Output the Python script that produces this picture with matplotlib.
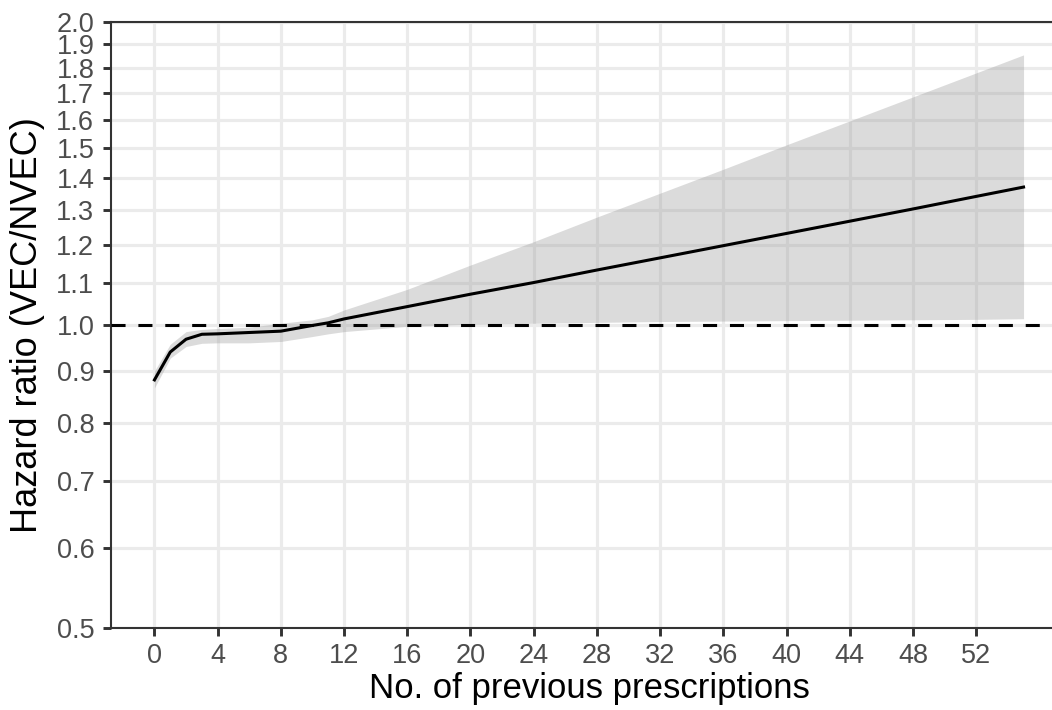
import matplotlib
matplotlib.use("Agg")
import matplotlib.pyplot as plt
from matplotlib.ticker import FixedLocator, NullLocator

plt.rcParams['font.family'] = ['Liberation Sans', 'DejaVu Sans']

# Estimated hazard ratio by number of previous prescriptions
prescriptions = [0, 1, 2, 3, 4, 6, 8, 10, 11, 12, 16, 20, 24, 28, 32, 36, 40, 44, 48, 52, 55]
hazard_ratio = [0.882, 0.940, 0.968, 0.979, 0.980, 0.983, 0.986, 0.999, 1.005, 1.014,
                1.043, 1.073, 1.102, 1.134, 1.166, 1.199, 1.233, 1.268, 1.304, 1.342, 1.371]
ci_lower = [0.866, 0.927, 0.952, 0.959, 0.960, 0.960, 0.963, 0.974, 0.980, 0.985,
            0.997, 1.002, 1.004, 1.006, 1.008, 1.009, 1.010, 1.011, 1.012, 1.013, 1.0145]
ci_upper = [0.900, 0.957, 0.985, 0.990, 0.992, 0.995, 1.004, 1.012, 1.020, 1.035,
            1.085, 1.147, 1.210, 1.280, 1.352, 1.428, 1.510, 1.595, 1.685, 1.780, 1.855]

x_ticks = list(range(0, 53, 4))
y_ticks = [0.5, 0.6, 0.7, 0.8, 0.9, 1.0, 1.1, 1.2, 1.3, 1.4, 1.5, 1.6, 1.7, 1.8, 1.9, 2.0]
y_tick_labels = [f"{v:.1f}" for v in y_ticks]

W, H = 1052, 710
fig = plt.figure(figsize=(W / 100, H / 100), dpi=100)
left, right, top, bottom = 111, 1067, 22, 628
ax = fig.add_axes([left / W, 1 - bottom / H, (right - left) / W, (bottom - top) / H])

ax.set_yscale('log')
ax.set_xlim(-2.75, 57.75)
ax.set_ylim(0.5, 2.0)

grid_col = '#ebebeb'
ax.set_axisbelow(True)
ax.grid(True, which='major', color=grid_col, linewidth=2.3)

ax.fill_between(prescriptions, ci_lower, ci_upper, color='#999999', alpha=0.35,
                linewidth=0, zorder=2)
ax.axhline(1.0, color='black', linewidth=2.2, linestyle=(0, (4.6, 4.2)), zorder=3)
ax.plot(prescriptions, hazard_ratio, color='black', linewidth=2.2, zorder=4)

ax.xaxis.set_major_locator(FixedLocator(x_ticks))
ax.xaxis.set_minor_locator(NullLocator())
ax.yaxis.set_major_locator(FixedLocator(y_ticks))
ax.yaxis.set_minor_locator(NullLocator())
ax.set_xticklabels([str(t) for t in x_ticks])
ax.set_yticklabels(y_tick_labels)

ax.tick_params(axis='both', which='major', length=6, width=2.1, color='#333333',
               labelcolor='#4d4d4d', labelsize=19.5)
ax.tick_params(axis='y', pad=6)
ax.tick_params(axis='x', pad=5)

for side, sp in ax.spines.items():
    sp.set_color('#333333')
    sp.set_linewidth(1.5)

ax.set_xlabel('No. of previous prescriptions', fontsize=25, color='black', labelpad=2)
ax.set_ylabel('Hazard ratio (VEC/NVEC)', fontsize=26, color='black', labelpad=8)

fig.savefig('out.png', dpi=100)
